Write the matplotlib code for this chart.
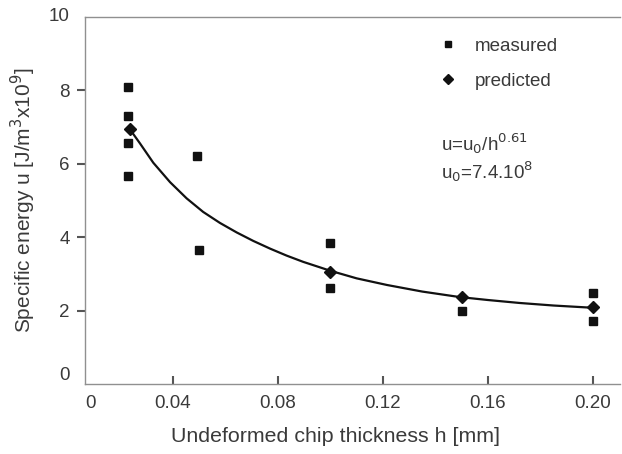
import matplotlib
matplotlib.use("Agg")
import matplotlib.pyplot as plt
from matplotlib.lines import Line2D

# Data
meas_h = [0.023, 0.023, 0.023, 0.023, 0.049, 0.050, 0.100, 0.100, 0.150, 0.200, 0.200]
meas_u = [8.10, 7.29, 6.56, 5.66, 6.20, 3.66, 3.85, 2.63, 1.98, 2.49, 1.71]
pred_h = [0.0236, 0.100, 0.150, 0.200]
pred_u = [6.94, 3.06, 2.36, 2.09]
curve_h = [0.0236, 0.0274, 0.0325, 0.0389, 0.0452, 0.0515, 0.0579, 0.0643, 0.0706,
           0.0770, 0.0833, 0.0896, 0.0960, 0.0998, 0.110, 0.1215, 0.135, 0.1493,
           0.160, 0.172, 0.185, 0.1996]
curve_u = [6.94, 6.56, 6.03, 5.50, 5.06, 4.69, 4.39, 4.13, 3.90,
           3.69, 3.50, 3.33, 3.18, 3.09, 2.88, 2.70, 2.52, 2.37,
           2.29, 2.21, 2.14, 2.08]
xtick_vals = [0.0085, 0.04, 0.08, 0.12, 0.16, 0.20]
xtick_labels = ["0", "0.04", "0.08", "0.12", "0.16", "0.20"]
ytick_vals = [0, 2, 4, 6, 8, 10]
ytick_labels = ["0", "2", "4", "6", "8", "10"]

plt.rcParams['font.family'] = ['Liberation Sans', 'DejaVu Sans']
txt = '#3a3a3a'
spine_c = '#909090'

fig = plt.figure(figsize=(6.22, 4.54), dpi=100)
ax = fig.add_axes([0.1367, 0.154, 0.86, 0.8086])

ax.plot(curve_h, curve_u, color='#111111', lw=1.6, zorder=2,
        solid_joinstyle='round', solid_capstyle='round')
ax.plot(meas_h, meas_u, ls='none', marker='s', ms=6.3, color='#111111', zorder=3)
ax.plot(pred_h, pred_u, ls='none', marker='D', ms=6.3, color='#111111', zorder=4)

ax.set_xlim(0.0065, 0.2103)
ax.set_ylim(0, 10)

ax.spines['right'].set_visible(False)
for s in ['left', 'bottom', 'top']:
    ax.spines[s].set_color(spine_c)
    ax.spines[s].set_linewidth(1.0)

ax.set_xticks(xtick_vals)
ax.set_xticklabels(xtick_labels)
ax.set_yticks(ytick_vals)
ax.set_yticklabels(ytick_labels)
ax.tick_params(axis='x', direction='in', length=6, width=1.5, colors='#555555',
               labelcolor=txt, labelsize=13.5, pad=8)
ax.tick_params(axis='y', direction='out', length=6, width=1.5, colors='#555555',
               labelcolor=txt, labelsize=13.5, pad=5)
xt = ax.xaxis.get_major_ticks()
xt[0].tick1line.set_visible(False)
yt = ax.yaxis.get_major_ticks()
yt[0].tick1line.set_visible(False)
yt[-1].tick1line.set_visible(False)
yt[0].label1.set_va('bottom')
yt[-1].label1.set_va('center')

ax.set_xlabel("Undeformed chip thickness h [mm]", fontsize=15.4, color=txt)
ax.xaxis.set_label_coords(0.469, -0.118)
ax.set_ylabel("Specific energy u [J/m$^3$x10$^9$]", fontsize=15, color=txt, labelpad=8)

handles = [Line2D([], [], ls='none', marker='s', ms=5, color='#111111'),
           Line2D([], [], ls='none', marker='D', ms=5.5, color='#111111')]
leg = ax.legend(handles, ['measured', 'predicted'], loc='upper left',
                bbox_to_anchor=(0.63, 0.99), frameon=False, fontsize=13.5,
                handletextpad=0.9, labelspacing=0.95, handlelength=1.0)
for t in leg.get_texts():
    t.set_color(txt)

ax.text(0.665, 0.655, "u=u$_0$/h$^{0.61}$", transform=ax.transAxes, fontsize=13.5,
        color=txt, va='center', ha='left')
ax.text(0.665, 0.578, "u$_0$=7.4.10$^8$", transform=ax.transAxes, fontsize=13.5,
        color=txt, va='center', ha='left')

fig.savefig("out.png", dpi=100)
